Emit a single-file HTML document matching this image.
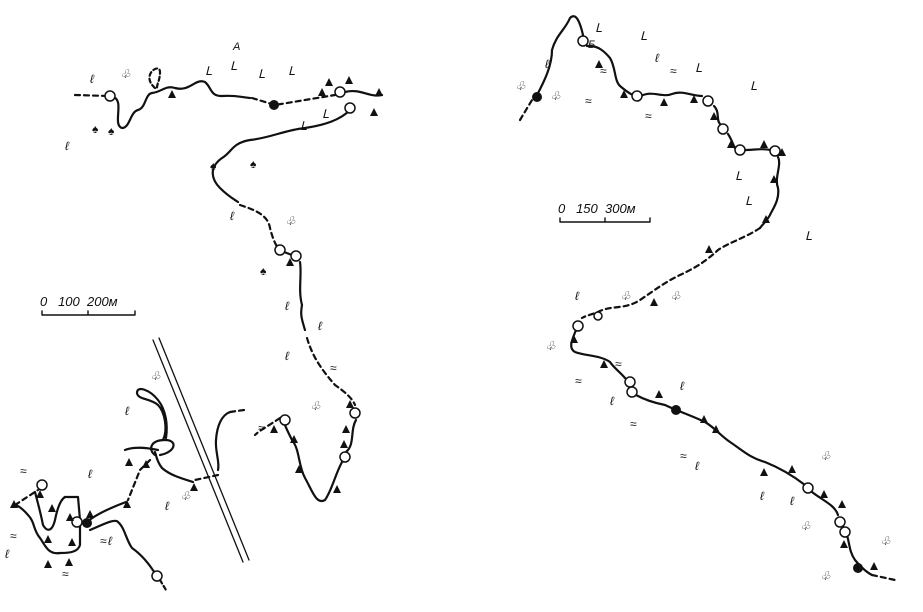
<!DOCTYPE html><html><head><style>body{margin:0;background:#fff}svg{display:block}text{font-family:"Liberation Sans",sans-serif;font-style:italic;fill:#111}</style></head><body>
<svg width="923" height="612" viewBox="0 0 923 612" xmlns="http://www.w3.org/2000/svg">
<defs>
<symbol id="t" viewBox="0 0 10 10"><polygon points="5,0 10,10 0,10" fill="#111"/></symbol>
</defs>
<g fill="none" stroke="#111" stroke-width="2.2" stroke-linecap="round" stroke-linejoin="round">
<!-- Map A -->
<path d="M75,95 L108,96" stroke-dasharray="5,4"/>
<path d="M113,97 C125,100 112,125 122,128 C130,128 130,112 138,110 C146,108 145,94 152,93 C162,92 165,85 175,88 C190,92 195,78 205,82 C212,88 210,96 222,96 C235,95 240,97 250,98"/>
<path d="M155,88 C140,75 160,62 160,72 C160,82 155,86 158,90" stroke-dasharray="4,3"/>
<path d="M252,98 L275,105 L335,95" stroke-dasharray="5,4"/>
<path d="M345,92 C360,88 370,98 382,95"/>
<path d="M350,110 C340,120 325,125 305,128 C285,130 270,138 250,140 C232,143 232,152 222,158 C208,168 212,180 220,188 C228,196 232,198 238,202"/>
<path d="M240,205 C255,210 268,215 270,228 C273,240 276,245 278,248" stroke-dasharray="5,4"/>
<path d="M284,252 L292,255 M300,262 C302,275 298,290 302,305 C300,315 302,320 305,330"/>
<path d="M307,338 C312,355 320,368 335,385 C345,392 352,398 355,405" stroke-dasharray="5,4"/>
<path d="M356,420 C350,430 355,445 346,452 M342,462 C335,475 332,490 325,500 C316,505 312,490 305,478 C298,465 300,450 292,440 C288,432 286,428 285,425"/>
<path d="M280,418 C270,425 260,430 255,435" stroke-dasharray="5,4"/>
<path d="M244,410 L230,412" stroke-dasharray="5,4"/>
<path d="M230,412 C222,415 217,425 216,440 C215,452 220,462 218,470"/>
<path d="M218,475 L195,480" stroke-dasharray="5,4"/>
<path d="M193,482 C180,478 170,475 162,468 C157,462 156,455 155,452"/>
<path d="M155,455 C148,450 150,440 165,440 C178,440 176,452 160,455"/>
<path d="M163,440 C168,430 165,412 158,405 C150,398 138,400 137,393 C137,385 150,390 158,400 C166,410 168,425 166,438"/>
<path d="M125,450 C135,446 148,448 158,450"/>
<path d="M150,460 L140,470 L128,500" stroke-dasharray="5,4"/>
<path d="M126,502 C110,508 95,515 87,522"/>
<path d="M90,530 C102,525 115,518 118,522 C125,528 126,540 132,548 C142,555 150,565 156,575"/>
<path d="M160,580 L166,590" stroke-dasharray="4,3"/>
<path d="M65,497 L78,497 L80,520 L80,545 C78,552 70,553 60,553 C48,555 45,545 40,538 C33,530 35,522 28,515 C22,508 17,505 15,505"/>
<path d="M15,505 L38,490" stroke-dasharray="5,4"/>
<path d="M35,492 C37,500 40,510 43,525 C47,532 52,532 55,520 C57,510 60,500 65,497"/>
<!-- Map B -->
<path d="M520,120 L532,100" stroke-dasharray="5,4"/>
<path d="M537,95 C545,80 552,65 552,50 C556,35 565,30 570,18 C576,12 580,22 583,35"/>
<path d="M587,46 C598,45 605,52 610,58 C616,68 614,80 620,86 C625,90 628,93 633,95"/>
<path d="M641,96 C652,90 662,98 672,94 C682,90 692,96 702,96"/>
<path d="M714,106 C720,112 716,120 720,124 M728,134 C732,140 733,145 735,148 M745,150 C755,150 762,148 770,150"/>
<path d="M778,157 C782,165 774,178 778,188 C780,200 772,210 770,215 C766,222 762,225 760,228"/>
<path d="M760,228 C745,238 730,242 718,250 C705,262 695,268 680,275 C665,282 655,290 640,300 C625,310 610,305 598,312 C590,315 585,316 582,318" stroke-dasharray="5,4"/>
<path d="M576,330 C572,340 568,348 575,352 C585,356 600,355 610,362 C614,368 620,372 625,378"/>
<path d="M636,395 C645,400 655,403 665,405 C675,410 690,415 705,422 C715,428 720,435 730,442 C742,450 750,458 765,462 C780,468 792,475 805,485"/>
<path d="M812,492 C822,500 835,505 838,515 M845,530 C850,540 848,550 855,560 C860,566 866,572 872,575"/>
<path d="M872,575 L895,580" stroke-dasharray="5,4"/>
<!-- scales -->
<path d="M42,315 L135,315 M42,315 L42,311 M88,315 L88,311 M135,315 L135,311" stroke-width="1.4"/>
<path d="M560,222 L650,222 M560,222 L560,218 M605,222 L605,218 M650,222 L650,218" stroke-width="1.4"/>
<!-- double line -->
<path d="M153,340 L243,562 M159,338 L249,560" stroke-width="1.3"/>
</g>
<g fill="#fff" stroke="#111" stroke-width="1.5">
<circle cx="110" cy="96" r="5"/><circle cx="340" cy="92" r="5"/><circle cx="350" cy="108" r="5"/><circle cx="280" cy="250" r="5"/><circle cx="296" cy="256" r="5"/><circle cx="355" cy="413" r="5"/><circle cx="345" cy="457" r="5"/><circle cx="285" cy="420" r="5"/><circle cx="77" cy="522" r="5"/><circle cx="42" cy="485" r="5"/><circle cx="157" cy="576" r="5"/>
<circle cx="583" cy="41" r="5"/><circle cx="637" cy="96" r="5"/><circle cx="708" cy="101" r="5"/><circle cx="723" cy="129" r="5"/><circle cx="740" cy="150" r="5"/><circle cx="775" cy="151" r="5"/><circle cx="578" cy="326" r="5"/><circle cx="630" cy="382" r="5"/><circle cx="632" cy="392" r="5"/><circle cx="808" cy="488" r="5"/><circle cx="840" cy="522" r="5"/><circle cx="845" cy="532" r="5"/><circle cx="598" cy="316" r="4"/>
</g>
<g fill="#111"><circle cx="274" cy="105" r="5"/><circle cx="87" cy="523" r="5"/><circle cx="537" cy="97" r="5"/><circle cx="676" cy="410" r="5"/><circle cx="858" cy="568" r="5"/></g>
<g>
<use href="#t" x="168" y="90" width="8" height="8"/><use href="#t" x="318" y="88" width="8" height="8"/><use href="#t" x="345" y="76" width="8" height="8"/><use href="#t" x="370" y="108" width="8" height="8"/><use href="#t" x="375" y="88" width="8" height="8"/><use href="#t" x="325" y="78" width="8" height="8"/><use href="#t" x="286" y="258" width="8" height="8"/><use href="#t" x="270" y="425" width="8" height="8"/><use href="#t" x="290" y="435" width="8" height="8"/><use href="#t" x="295" y="465" width="8" height="8"/><use href="#t" x="342" y="425" width="8" height="8"/><use href="#t" x="340" y="440" width="8" height="8"/><use href="#t" x="333" y="485" width="8" height="8"/><use href="#t" x="346" y="400" width="8" height="8"/><use href="#t" x="125" y="458" width="8" height="8"/><use href="#t" x="142" y="460" width="8" height="8"/><use href="#t" x="123" y="500" width="8" height="8"/><use href="#t" x="190" y="483" width="8" height="8"/><use href="#t" x="10" y="500" width="8" height="8"/><use href="#t" x="36" y="490" width="8" height="8"/><use href="#t" x="48" y="504" width="8" height="8"/><use href="#t" x="66" y="513" width="8" height="8"/><use href="#t" x="44" y="535" width="8" height="8"/><use href="#t" x="68" y="538" width="8" height="8"/><use href="#t" x="44" y="560" width="8" height="8"/><use href="#t" x="65" y="558" width="8" height="8"/><use href="#t" x="86" y="510" width="8" height="8"/>
<use href="#t" x="595" y="60" width="8" height="8"/><use href="#t" x="620" y="90" width="8" height="8"/><use href="#t" x="660" y="98" width="8" height="8"/><use href="#t" x="690" y="95" width="8" height="8"/><use href="#t" x="710" y="112" width="8" height="8"/><use href="#t" x="727" y="140" width="8" height="8"/><use href="#t" x="760" y="140" width="8" height="8"/><use href="#t" x="778" y="148" width="8" height="8"/><use href="#t" x="770" y="175" width="8" height="8"/><use href="#t" x="762" y="215" width="8" height="8"/><use href="#t" x="705" y="245" width="8" height="8"/><use href="#t" x="650" y="298" width="8" height="8"/><use href="#t" x="570" y="335" width="8" height="8"/><use href="#t" x="600" y="360" width="8" height="8"/><use href="#t" x="655" y="390" width="8" height="8"/><use href="#t" x="700" y="415" width="8" height="8"/><use href="#t" x="712" y="425" width="8" height="8"/><use href="#t" x="788" y="465" width="8" height="8"/><use href="#t" x="820" y="490" width="8" height="8"/><use href="#t" x="838" y="500" width="8" height="8"/><use href="#t" x="840" y="540" width="8" height="8"/><use href="#t" x="870" y="562" width="8" height="8"/><use href="#t" x="760" y="468" width="8" height="8"/>
</g>
<g font-size="12" fill="#333">
<text x="90" y="83">ℓ</text><text x="120" y="78">♧</text><text x="92" y="133">♠</text><text x="108" y="135">♠</text><text x="65" y="150">ℓ</text><text x="205" y="75">ᒪ</text><text x="230" y="70">ᒪ</text><text x="258" y="78">ᒪ</text><text x="288" y="75">ᒪ</text><text x="300" y="130">ᒪ</text><text x="322" y="118">ᒪ</text><text x="210" y="170">♠</text><text x="250" y="168">♠</text><text x="230" y="220">ℓ</text><text x="285" y="225">♧</text><text x="260" y="275">♠</text><text x="285" y="310">ℓ</text><text x="318" y="330">ℓ</text><text x="285" y="360">ℓ</text><text x="310" y="410">♧</text><text x="150" y="380">♧</text><text x="125" y="415">ℓ</text><text x="88" y="478">ℓ</text><text x="165" y="510">ℓ</text><text x="5" y="558">ℓ</text><text x="108" y="545">ℓ</text><text x="180" y="500">♧</text>
<text x="545" y="68">ℓ</text><text x="595" y="32">ᒪ</text><text x="640" y="40">ᒪ</text><text x="655" y="62">ℓ</text><text x="515" y="90">♧</text><text x="550" y="100">♧</text><text x="695" y="72">ᒪ</text><text x="750" y="90">ᒪ</text><text x="735" y="180">ᒪ</text><text x="745" y="205">ᒪ</text><text x="805" y="240">ᒪ</text><text x="575" y="300">ℓ</text><text x="620" y="300">♧</text><text x="670" y="300">♧</text><text x="545" y="350">♧</text><text x="610" y="405">ℓ</text><text x="680" y="390">ℓ</text><text x="695" y="470">ℓ</text><text x="820" y="460">♧</text><text x="800" y="530">♧</text><text x="880" y="545">♧</text><text x="820" y="580">♧</text><text x="790" y="505">ℓ</text><text x="760" y="500">ℓ</text>
<text x="600" y="75">≈</text><text x="670" y="75">≈</text><text x="585" y="105">≈</text><text x="645" y="120">≈</text><text x="330" y="372">≈</text><text x="258" y="432">≈</text><text x="20" y="475">≈</text><text x="10" y="540">≈</text><text x="62" y="578">≈</text><text x="100" y="545">≈</text><text x="615" y="368">≈</text><text x="575" y="385">≈</text><text x="630" y="428">≈</text><text x="680" y="460">≈</text>
</g>
<text x="233" y="50" font-size="11">А</text>
<text x="588" y="48" font-size="11">Б</text>
<text x="40" y="306" font-size="13">0&#160;&#160;&#160;100&#160;&#160;200м</text>
<text x="558" y="213" font-size="13">0&#160;&#160;&#160;150&#160;&#160;300м</text>
</svg></body></html>
